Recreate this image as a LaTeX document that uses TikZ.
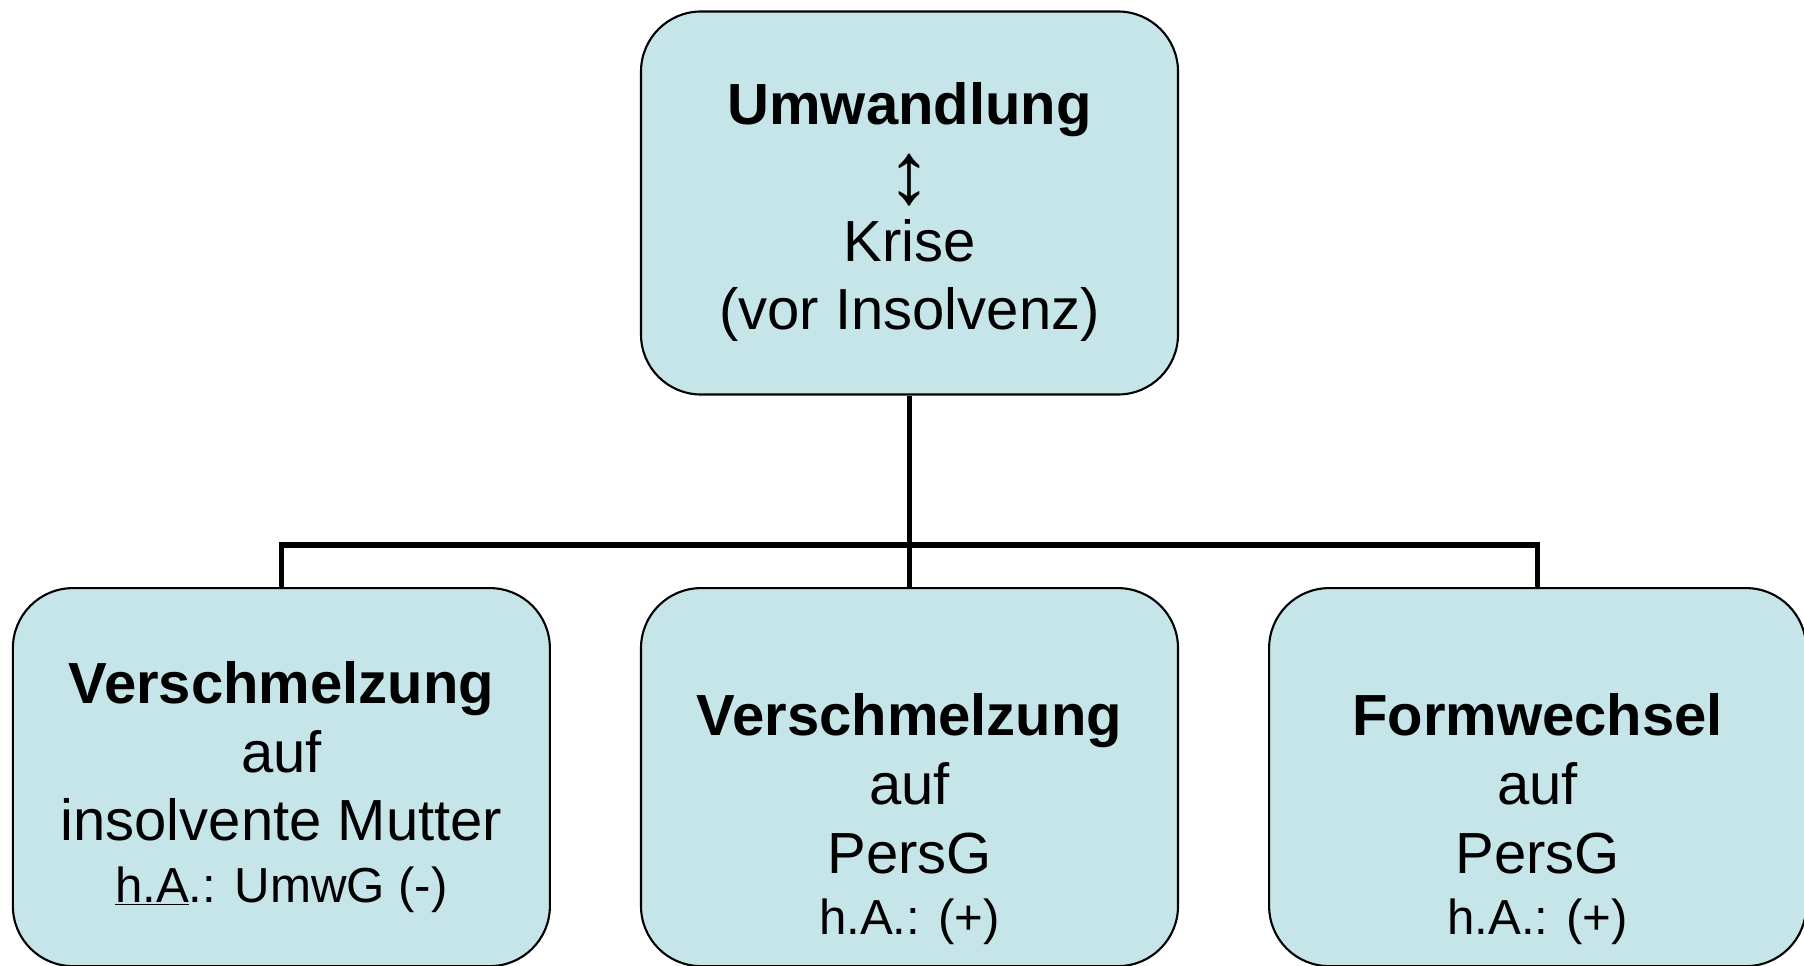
\documentclass[tikz,border=0pt]{standalone}
\usepackage{fontspec}
\setmainfont{Liberation Sans}
\usetikzlibrary{positioning}
\definecolor{boxfill}{RGB}{197,229,232}
% bold first line, the strut pushes the text block down in its box
\newcommand\boxhead[2]{\rule{0pt}{#1}\textbf{#2}}
\newcommand\updown{\raisebox{-6.3pt}{\smash{\fontsize{50}{39}\selectfont ↕}}}

\begin{document}
\begin{tikzpicture}[
  node distance=38.3mm and 17.8mm,
  box/.style={draw, line width=1.2pt, fill=boxfill, rounded corners=12mm, minimum width=107.4mm, minimum height=75.6mm, align=center, font=\fontsize{33}{39}\selectfont},
  link/.style={line width=3pt}
]
\useasboundingbox (0,0) rectangle (36.08,-19.32);
\node[box, minimum height=76.6mm] (krise) at (18.19,-4.06) {\boxhead{34pt}{Umwandlung}\\\updown\\Krise\\(vor Insolvenz)};
\node[box, below=of krise] (persg) {\boxhead{72pt}{Verschmelzung}\\auf\\PersG\\[-4pt]{\fontsize{28}{34}\selectfont h.A.: (+)}};
\node[box, left=of persg] (mutter) {\boxhead{35pt}{Verschmelzung}\\auf\\insolvente Mutter\\[-4pt]{\fontsize{28}{34}\selectfont \underline{h.A}.: UmwG (-)}};
\node[box, right=of persg] (formw) {\boxhead{72pt}{Formwechsel}\\auf\\PersG\\[-4pt]{\fontsize{28}{34}\selectfont h.A.: (+)}};
\coordinate[above=8.4mm of persg.north] (bar);
\draw[link] (krise.south) -- (persg.north);
\draw[link] (mutter.north) |- (bar) -| (formw.north);
\end{tikzpicture}
\end{document}
